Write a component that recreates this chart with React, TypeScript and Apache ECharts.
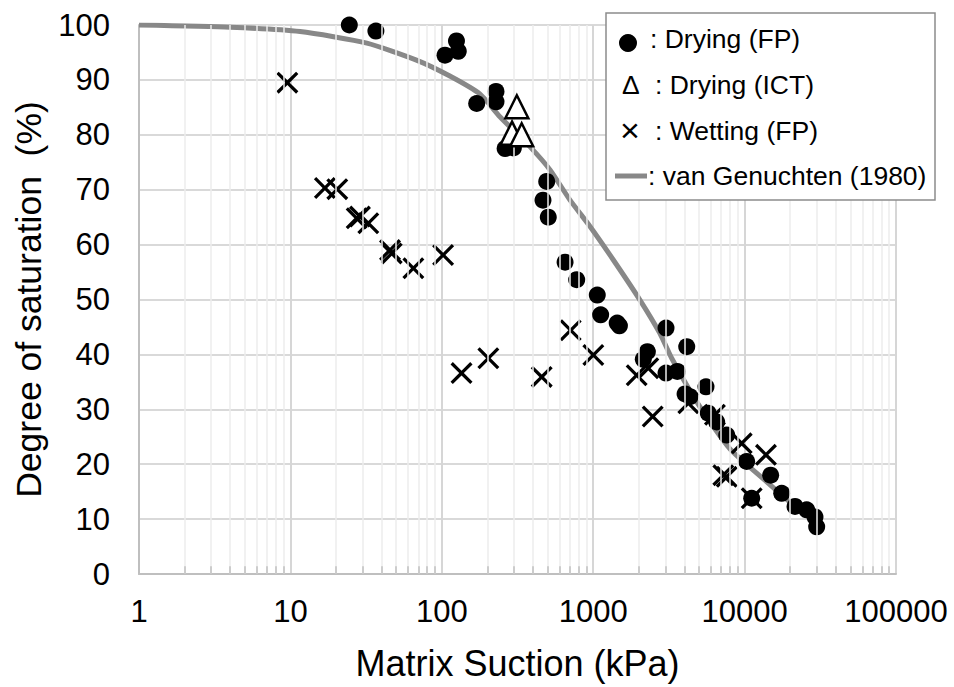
import React, { useEffect, useRef } from "react";
import * as echarts from "echarts";

const FONT = "'Liberation Sans', Arial, Helvetica, sans-serif";

// Drying (FP): [matrix suction kPa, degree of saturation %]
const dryingFP: [number, number][] = [
  [24.5, 100], [36.7, 98.9], [125, 97.1], [128.5, 95.2], [105, 94.5],
  [228, 87.9], [228, 86.0], [170, 85.7], [262, 77.5], [297, 77.6],
  [493, 71.5], [466, 68.1], [505, 65.0], [652, 56.8], [778, 53.6],
  [1064, 50.8], [1120, 47.2], [1440, 45.7], [1490, 45.2], [3027, 44.8],
  [4148, 41.4], [2279, 40.5], [2142, 39.1], [3027, 36.6], [3594, 36.9],
  [5558, 34.1], [4045, 32.8], [4358, 32.3], [5755, 29.3], [6540, 27.7],
  [7617, 25.3], [10320, 20.5], [14860, 18.0], [17580, 14.7], [11140, 13.8],
  [21530, 12.3], [25700, 11.7], [29170, 10.4], [29930, 8.6],
];

// Drying (ICT)
const dryingICT: [number, number][] = [
  [313, 85.1], [291, 80.3], [337, 80.0],
];

// Wetting (FP)
const wettingFP: [number, number][] = [
  [9.55, 89.5], [16.9, 70.3], [20.4, 70.1], [27.4, 64.8], [28.8, 65.1],
  [32.7, 63.9], [45.5, 59.0], [46.7, 58.4], [64.9, 55.7], [102, 58.1],
  [135, 36.6], [203, 39.3], [457, 35.9], [710, 44.4], [1002, 39.9],
  [1937, 36.2], [2312, 37.5], [2472, 28.7], [4249, 31.1], [6370, 29.0],
  [7230, 18.0], [7617, 17.7], [9570, 23.8], [13840, 21.7], [11140, 13.8],
];

// van Genuchten (1980) fitted curve
const vanGenuchten: [number, number][] = [
  [1, 100], [4, 99.6], [11.6, 98.8], [32, 96.7], [68, 93.6], [113, 90.7],
  [179, 87.4], [242, 83.3], [383, 77.8], [519, 73.6], [703, 68.1],
  [953, 63.3], [1359, 57.2], [2037, 49.9], [2762, 43.8], [3300, 39.3],
  [5000, 30.7], [8000, 22.8], [14000, 16.8], [21000, 12.6], [28500, 10.0],
];

const legendLabels = [": Drying (FP)", ": Drying (ICT)", ": Wetting (FP)", ": van Genuchten (1980)"];
const xAxisTitle = "Matrix Suction (kPa)";
const yAxisTitle = "Degree of saturation  (%)";

const decades = [1, 10, 100, 1000, 10000];
const minorSteps = [2, 3, 4, 5, 6, 7, 8, 9];
const minorTickValues: number[] = [];
decades.forEach((d) => minorSteps.forEach((m) => minorTickValues.push(d * m)));

const crossPath =
  "path://M10.5,0 L50,39.5 L89.5,0 L100,10.5 L60.5,50 L100,89.5 L89.5,100 L50,60.5 L10.5,100 L0,89.5 L39.5,50 L0,10.5 Z";

export default function App() {
  const ref = useRef<HTMLDivElement>(null);
  useEffect(() => {
    if (!ref.current) return;
    const chart = echarts.init(ref.current, null, { renderer: "svg" });
    const txt = (text: string, x: number, y: number, size = 26.5) => ({
      type: "text",
      x,
      y,
      z: 101,
      style: {
        text,
        fill: "#000",
        fontSize: size,
        fontFamily: FONT,
        align: "left",
        verticalAlign: "middle",
      },
    });
    const option: any = {
      animation: false,
      backgroundColor: "#fff",
      grid: { left: 139, right: 58, top: 25, bottom: 113, containLabel: false },
      xAxis: {
        type: "log",
        logBase: 10,
        min: 1,
        max: 100000,
        name: xAxisTitle,
        nameLocation: "middle",
        nameGap: 71,
        nameTextStyle: { fontSize: 36, color: "#000", fontFamily: FONT },
        axisLine: { show: true, lineStyle: { color: "#bfbfbf", width: 2 } },
        axisTick: { show: false },
        axisLabel: {
          fontSize: 31,
          color: "#000",
          fontFamily: FONT,
          margin: 22,
          formatter: (v: number) => String(Math.round(v)),
        },
        splitLine: { show: true, lineStyle: { color: "#d6d6d6", width: 2 } },
      },
      yAxis: {
        type: "value",
        min: 0,
        max: 100,
        interval: 10,
        name: yAxisTitle,
        nameLocation: "middle",
        nameGap: 89,
        nameTextStyle: { fontSize: 35.5, color: "#000", fontFamily: FONT },
        axisLine: { show: true, lineStyle: { color: "#bfbfbf", width: 2 } },
        axisTick: { show: false },
        axisLabel: { fontSize: 31, color: "#000", fontFamily: FONT, margin: 29 },
        splitLine: { show: true, lineStyle: { color: "#d9d9d9", width: 2 } },
      },
      series: [
        {
          type: "line",
          name: "minor grid",
          data: [],
          z: 1,
          silent: true,
          markLine: {
            silent: true,
            symbol: ["none", "none"],
            label: { show: false },
            lineStyle: { color: "#ececec", width: 1.5, type: "solid", opacity: 1 },
            data: minorTickValues.map((v) => ({ xAxis: v })),
          },
        },
        {
          type: "line",
          name: "minor ticks",
          data: [],
          z: 1,
          silent: true,
          markLine: {
            silent: true,
            symbol: ["none", "none"],
            label: { show: false },
            lineStyle: { color: "#bfbfbf", width: 1.5, type: "solid", opacity: 1 },
            data: minorTickValues.map((v) => [{ coord: [v, 0] }, { coord: [v, 1.4] }]),
          },
        },
        {
          type: "line",
          name: "van Genuchten (1980)",
          data: vanGenuchten,
          symbol: "none",
          showSymbol: false,
          smooth: 0.2,
          z: 2,
          lineStyle: { color: "#888888", width: 5 },
        },
        {
          type: "scatter",
          name: "Wetting (FP)",
          data: wettingFP,
          symbol: crossPath,
          symbolSize: 22,
          z: 3,
          itemStyle: { color: "#000", opacity: 1 },
        },
        {
          type: "scatter",
          name: "Drying (FP)",
          data: dryingFP,
          symbol: "circle",
          symbolSize: 17,
          z: 4,
          itemStyle: { color: "#000", opacity: 1 },
        },
        {
          type: "scatter",
          name: "Drying (ICT)",
          data: dryingICT,
          symbol: "triangle",
          symbolSize: 23,
          z: 5,
          itemStyle: { color: "#fff", borderColor: "#000", borderWidth: 2.5, opacity: 1 },
        },
      ],
      graphic: [
        {
          type: "rect",
          z: 100,
          shape: { x: 606, y: 13, width: 329, height: 187 },
          style: { fill: "#fff", stroke: "#8c8c8c", lineWidth: 1.5 },
        },
        { type: "circle", z: 101, shape: { cx: 628, cy: 43, r: 9 }, style: { fill: "#000" } },
        txt("Δ", 622, 85),
        txt("×", 620, 130, 34),
        {
          type: "line",
          z: 101,
          shape: { x1: 615, y1: 176, x2: 647, y2: 176 },
          style: { stroke: "#888888", lineWidth: 5 },
        },
        txt(legendLabels[0], 650, 39),
        txt(legendLabels[1], 655, 85),
        txt(legendLabels[2], 655, 131),
        txt(legendLabels[3], 648, 176),
      ],
    };
    chart.setOption(option);
    return () => chart.dispose();
  }, []);
  return (
    <div
      ref={ref}
      style={{ position: "fixed", left: 0, top: 0, width: 954, height: 687, background: "#fff" }}
    />
  );
}
